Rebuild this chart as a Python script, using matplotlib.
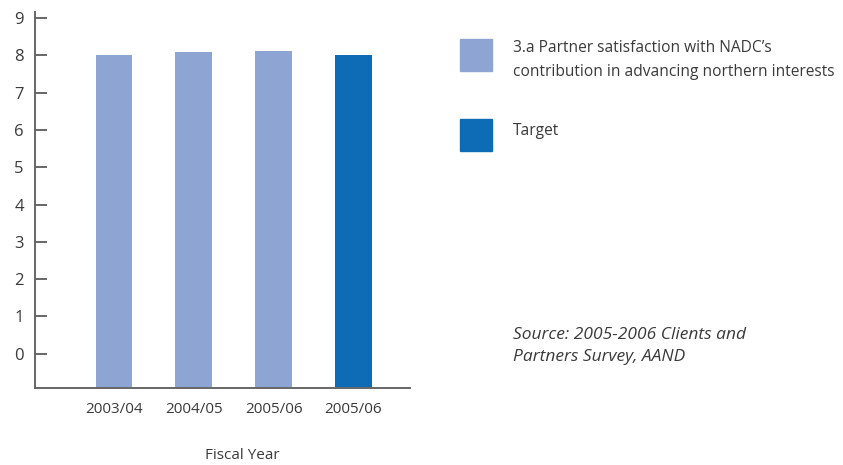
import matplotlib.pyplot as plt
from matplotlib.patches import Rectangle

# data
years = ['2003/04', '2004/05', '2005/06', '2005/06']
scores = [8.0, 8.1, 8.13, 8.0]
is_target = [False, False, False, True]

series_label = "3.a Partner satisfaction with NADC\u2019s\ncontribution in advancing northern interests"
target_label = "Target"
source_text = "Source: 2005-2006 Clients and\nPartners Survey, AAND"

light_blue = '#8EA5D4'
dark_blue = '#0D6CB5'
grey = '#666666'
txt = '#3a3a3a'

plt.rcParams['font.family'] = ['Open Sans', 'DejaVu Sans']

fig = plt.figure(figsize=(8.43, 4.65), dpi=100)
ax = fig.add_axes([0.0415, 0.1656, 0.445, 0.8084])

base = -0.92
pos = list(range(len(years)))
colors = [dark_blue if t else light_blue for t in is_target]
heights = [s - base for s in scores]
ax.bar(pos, heights, bottom=base, width=0.46, color=colors)

ax.set_ylim(base, 9.16)
ax.set_xlim(-0.99, 3.71)
ax.set_yticks(range(0, 10))
ax.set_xticks(pos)
ax.set_xticklabels(years)

for side in ['top', 'right']:
    ax.spines[side].set_visible(False)
for side in ['left', 'bottom']:
    ax.spines[side].set_color(grey)
    ax.spines[side].set_linewidth(1.4)

ax.tick_params(axis='y', direction='in', length=8.5, width=1.4, color=grey,
               pad=8, labelsize=12, labelcolor=txt)
ax.tick_params(axis='x', length=0, pad=10, labelsize=11, labelcolor=txt)

# axis title placed under the tick labels
fig.text(242 / 843, 1 - 455 / 465, 'Fiscal Year', fontsize=11, color=txt,
         ha='center', va='center')

# legend drawn by hand to the right of the plot
fig.patches.append(Rectangle((460 / 843, 1 - 71 / 465), 32 / 843, 32 / 465,
                             transform=fig.transFigure, color=light_blue))
fig.patches.append(Rectangle((460 / 843, 1 - 151 / 465), 32 / 843, 32 / 465,
                             transform=fig.transFigure, color=dark_blue))
fig.text(513 / 843, 1 - 60 / 465, series_label, fontsize=11.2, color=txt,
         va='center', ha='left', linespacing=1.65)
fig.text(513 / 843, 1 - 131 / 465, target_label, fontsize=11.2, color=txt,
         va='center', ha='left')
fig.text(513 / 843, 1 - 346 / 465, source_text, fontsize=12.5, color=txt,
         style='italic', va='center', ha='left', linespacing=1.45)

fig.savefig('out.png', dpi=100)
